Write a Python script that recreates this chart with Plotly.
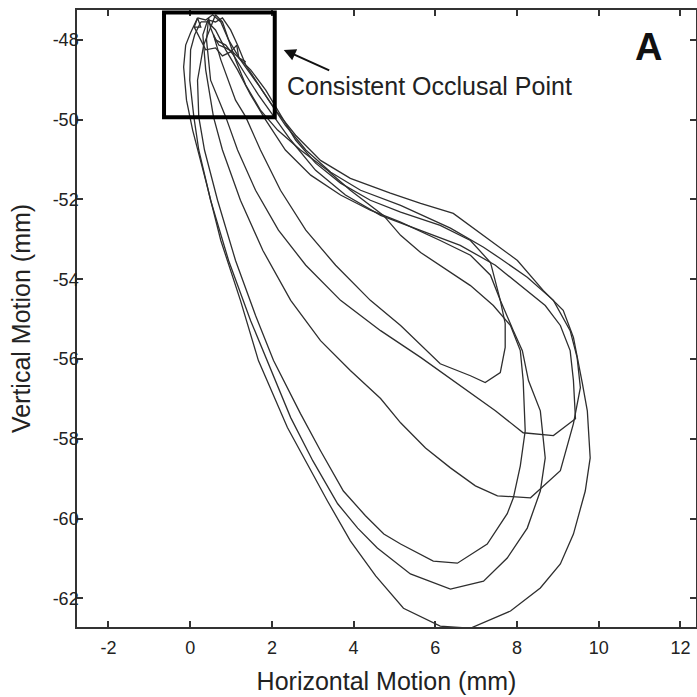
import plotly.graph_objects as go

# ---- data (mm) : jaw-motion chewing cycles ----
loop1_x = [0.57, 0.75, 1.11, 1.36, 1.72, 2.21, 2.83, 3.56, 4.41, 5.15, 6.12, 6.86, 7.22, 7.59, 7.71, 7.71, 7.59, 7.35, 6.86, 6.12, 5.15, 4.41, 3.68, 3.07, 2.58, 2.21, 1.85, 1.48, 1.23, 1.04, 0.87, 0.70, 0.57]
loop1_y = [-47.87, -48.50, -49.51, -49.93, -50.76, -51.77, -52.77, -53.65, -54.53, -55.16, -56.12, -56.42, -56.59, -56.34, -55.71, -55.11, -54.53, -53.58, -53.03, -52.65, -52.32, -52.02, -51.59, -51.09, -50.51, -49.88, -49.26, -48.75, -48.50, -48.30, -48.20, -48.13, -47.87]

loop2_x = [0.45, 0.40, 0.50, 0.87, 1.16, 1.60, 2.16, 2.83, 3.68, 4.66, 5.64, 6.69, 7.47, 8.15, 8.89, 9.43, 9.38, 9.30, 9.06, 8.69, 8.08, 7.47, 6.61, 5.64, 4.66, 3.80, 3.07, 2.46, 2.02, 1.67, 1.36, 1.06, 0.87, 0.62, 0.50, 0.45]
loop2_y = [-47.45, -48.00, -49.01, -49.93, -50.76, -51.77, -52.77, -53.65, -54.53, -55.29, -55.96, -56.72, -57.30, -57.85, -57.92, -57.50, -56.54, -55.79, -55.16, -54.66, -54.16, -53.65, -53.15, -52.77, -52.40, -51.89, -51.27, -50.51, -49.88, -49.38, -48.88, -48.38, -48.13, -48.00, -47.70, -47.45]

loop3_x = [0.43, 0.31, 0.38, 0.57, 0.79, 1.23, 1.78, 2.46, 3.19, 3.92, 4.66, 5.15, 5.76, 6.37, 6.98, 7.52, 8.33, 9.06, 9.38, 9.55, 9.47, 9.30, 8.89, 8.25, 7.59, 7.18, 6.37, 5.15, 4.17, 3.44, 2.83, 2.33, 1.92, 1.60, 1.36, 1.16, 0.99, 0.79, 0.62, 0.43]
loop3_y = [-47.50, -47.87, -48.75, -49.93, -50.76, -52.02, -53.28, -54.53, -55.54, -56.29, -56.99, -57.60, -58.23, -58.73, -59.18, -59.43, -59.48, -58.80, -57.62, -56.72, -55.96, -55.29, -54.53, -53.95, -53.48, -53.20, -52.72, -52.15, -51.77, -51.32, -50.76, -50.14, -49.51, -49.01, -48.63, -48.13, -47.75, -47.45, -47.55, -47.50]

loop4_x = [0.62, 0.50, 0.33, 0.18, 0.21, 0.35, 0.67, 1.11, 1.60, 2.04, 2.70, 3.19, 3.75, 4.29, 4.74, 5.15, 5.95, 6.54, 7.27, 7.76, 7.91, 8.08, 8.20, 8.15, 8.08, 7.84, 7.42, 6.86, 6.37, 5.64, 5.15, 4.73, 3.92, 3.36, 2.70, 2.14, 1.72, 1.36, 1.11, 0.94, 0.79, 0.62]
loop4_y = [-47.37, -47.70, -48.13, -49.01, -49.93, -50.76, -52.02, -53.53, -54.91, -56.04, -57.37, -58.30, -59.31, -59.93, -60.39, -60.64, -61.07, -61.12, -60.64, -59.88, -59.48, -58.68, -57.80, -56.54, -55.79, -55.16, -54.66, -54.16, -53.83, -53.33, -52.90, -52.40, -51.77, -51.27, -50.76, -50.26, -49.76, -49.13, -48.50, -48.00, -47.55, -47.37]

loop5_x = [0.26, 0.11, 0.01, -0.01, 0.09, 0.21, 0.50, 0.94, 1.48, 1.89, 2.46, 3.00, 3.61, 4.10, 4.58, 5.39, 6.37, 7.18, 7.76, 8.25, 8.57, 8.69, 8.57, 8.28, 8.13, 7.91, 7.59, 7.35, 6.86, 6.12, 5.15, 4.41, 3.68, 2.95, 2.33, 1.85, 1.48, 1.16, 0.87, 0.62, 0.43, 0.26]
loop5_y = [-47.55, -47.87, -48.25, -49.01, -49.93, -50.76, -52.02, -53.53, -55.04, -56.04, -57.47, -58.55, -59.63, -60.24, -60.74, -61.39, -61.77, -61.57, -60.99, -60.24, -59.31, -58.48, -57.30, -56.54, -55.79, -55.29, -54.53, -53.90, -53.40, -53.03, -52.57, -52.27, -51.89, -51.39, -50.76, -50.01, -49.38, -48.75, -48.25, -47.75, -47.55, -47.55]

loop6_x = [0.18, 0.01, -0.11, -0.16, -0.09, 0.06, 0.38, 0.75, 1.23, 1.67, 2.38, 3.36, 3.92, 4.54, 5.22, 6.12, 6.86, 7.84, 8.57, 9.06, 9.38, 9.67, 9.79, 9.74, 9.72, 9.60, 9.47, 9.38, 9.13, 8.64, 8.01, 7.10, 6.44, 5.64, 4.90, 3.92, 3.19, 2.58, 2.09, 1.67, 1.23, 0.94, 0.75, 0.55, 0.38, 0.18]
loop6_y = [-47.45, -47.82, -48.13, -48.68, -49.51, -50.26, -51.52, -53.03, -54.53, -56.04, -57.72, -59.56, -60.56, -61.44, -62.25, -62.70, -62.75, -62.32, -61.74, -61.14, -60.39, -59.31, -58.48, -57.80, -57.30, -56.62, -55.96, -55.46, -54.78, -54.28, -53.53, -52.85, -52.35, -52.10, -51.84, -51.47, -51.02, -50.39, -49.76, -49.13, -48.50, -48.00, -47.55, -47.37, -47.50, -47.45]

detail_x = [0.10, 0.18, 0.26, 0.10, 0.38, 0.62, 0.79, 0.99, 1.14, 1.19, 1.36]
detail_y = [-47.68, -47.45, -47.68, -47.68, -48.25, -48.20, -48.40, -48.30, -48.13, -48.45, -48.55]

loops_x = [loop1_x, loop2_x, loop3_x, loop4_x, loop5_x, loop6_x, detail_x]
loops_y = [loop1_y, loop2_y, loop3_y, loop4_y, loop5_y, loop6_y, detail_y]

x_ticks = [-2, 0, 2, 4, 6, 8, 10, 12]
x_tick_labels = ["-2", "0", "2", "4", "6", "8", "10", "12"]
y_ticks = [-62, -60, -58, -56, -54, -52, -50, -48]
y_tick_labels = ["-62", "-60", "-58", "-56", "-54", "-52", "-50", "-48"]

FONT = "Liberation Sans, Arial, Helvetica, sans-serif"

fig = go.Figure()
for xs, ys in zip(loops_x, loops_y):
    fig.add_trace(go.Scatter(x=xs, y=ys, mode="lines",
                             line=dict(color="#2e2e2e", width=1.3),
                             hoverinfo="skip", showlegend=False))

axis_common = dict(ticks="inside", ticklen=6, tickwidth=1.5, tickcolor="#333",
                   showline=True, linecolor="#333", linewidth=1.5, mirror="ticks",
                   showgrid=False, zeroline=False, automargin=False,
                   tickfont=dict(family=FONT, size=18, color="#222"))

fig.update_xaxes(range=[-2.77, 12.38], tickvals=x_ticks, ticktext=x_tick_labels,
                 ticklabelstandoff=4,
                 title=dict(text="Horizontal Motion (mm)", font=dict(family=FONT, size=25, color="#222"), standoff=15),
                 **axis_common)
fig.update_yaxes(range=[-62.72, -47.25], tickvals=y_ticks, ticktext=y_tick_labels,
                 ticklabelstandoff=-7,
                 title=dict(text="Vertical Motion (mm)", font=dict(family=FONT, size=25, color="#222"), standoff=15),
                 **axis_common)

fig.add_shape(type="rect", xref="x", yref="y", x0=-0.64, x1=2.07, y0=-49.94, y1=-47.31,
              line=dict(color="black", width=4))

fig.add_annotation(x=2.29, y=-48.25, ax=3.44, ay=-48.78, xref="x", yref="y", axref="x", ayref="y",
                   text="", showarrow=True, arrowhead=2, arrowsize=1.2, arrowwidth=2, arrowcolor="#111")
fig.add_annotation(x=5.86, y=-49.16, xref="x", yref="y", text="Consistent Occlusal Point",
                   showarrow=False, font=dict(family=FONT, size=25, color="#222"))
fig.add_annotation(x=11.21, y=-48.18, xref="x", yref="y", text="<b>A</b>",
                   showarrow=False, font=dict(family=FONT, size=38, color="#111"))

fig.update_layout(width=697, height=697, margin=dict(l=77, r=1, t=10, b=70),
                  paper_bgcolor="white", plot_bgcolor="white", hovermode=False)

fig.write_html("out.html", config={"displayModeBar": False},
               post_script="document.body.style.margin='0';document.body.style.overflow='hidden';")
